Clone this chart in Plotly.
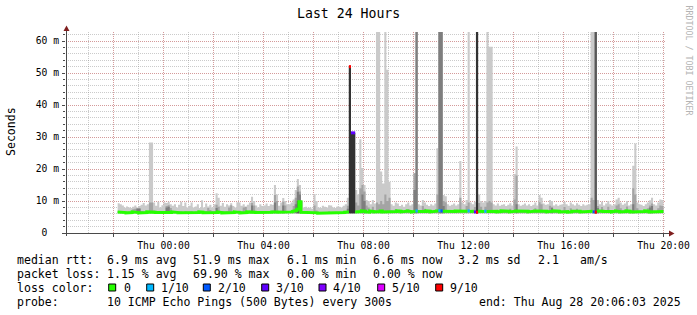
import pandas as pd
import plotly.graph_objects as go

# ---------------- data: 5-minute samples, first one at Wed 2025-08-27 22:10 ----------------
sample_start = "2025-08-27 22:10"

median_ms = [
    6.6, 6.4, 6.5, 6.4, 6.3, 6.5, 6.4, 6.6, 6.5, 6.4, 6.3, 6.4, 6.5, 6.4, 6.6, 6.5, 6.7, 6.5, 6.4, 6.3, 6.5, 6.4,
    6.4, 6.5, 6.3, 6.4, 6.6, 6.5, 6.4, 6.3, 6.5, 6.4, 6.3, 6.5,
    6.4, 6.3, 6.5, 6.4, 6.4, 6.6, 6.5, 6.3, 6.4, 6.5, 6.4, 6.3,
    6.5, 6.4, 6.6, 6.4, 6.3, 6.5, 6.4, 6.5, 6.3, 6.4, 6.6, 6.5,
    6.4, 6.3, 6.5, 6.4, 6.6, 6.5, 6.7, 6.5, 6.4, 6.3, 6.5, 6.4,
    6.5, 6.4, 6.3, 6.5, 6.6, 6.8, 6.6, 6.5, 6.4, 6.6, 6.5, 6.4,
    6.5, 6.6, 6.8, 7.0, 7.4, 9.8, 6.5, 6.4, 6.3, 6.4, 6.3, 6.5,
    6.4, 6.3, 6.2, 6.3, 6.4, 6.3, 6.2, 6.4, 6.3, 6.2, 6.3, 6.4,
    6.3, 6.2, 6.4, 6.5, 6.6, 52.0, 31.3, 31.3, 6.6, 6.8, 6.7, 6.9,
    6.8, 6.6, 6.5, 6.9, 6.7, 6.6, 6.8, 6.7, 6.9, 6.6, 6.8, 6.7,
    6.7, 6.8, 6.6, 6.7, 6.9, 6.8, 6.6, 6.7, 6.8, 6.9, 6.7, 6.6,
    6.8, 6.9, 6.7, 6.6, 6.8, 6.7, 6.9, 6.8, 6.6, 6.7, 6.8, 6.9,
    7.0, 6.9, 6.8, 6.6, 6.7, 6.8, 6.6, 6.7, 6.9, 6.8, 6.7, 6.8,
    6.7, 6.8, 6.9, 6.7, 6.8, 6.6, 6.5, 6.8, 6.9, 6.7, 6.8, 6.7,
    6.8, 6.9, 6.7, 6.8, 6.6, 6.7, 6.9, 6.8, 6.7, 6.8, 6.6, 6.7,
    6.8, 6.9, 6.7, 6.8, 6.9, 6.7, 6.8, 6.6, 6.7, 6.8, 6.9, 6.7,
    6.8, 6.7, 6.9, 6.8, 6.6, 6.7, 6.8, 6.9, 6.7, 6.8, 6.6, 6.7,
    6.8, 6.7, 6.5, 6.6, 6.8, 6.7, 6.9, 6.8, 6.6, 6.7, 6.8, 6.7,
    6.7, 6.8, 6.6, 6.5, 6.9, 7.0, 6.8, 6.7, 6.9, 6.8, 6.7, 6.6,
    6.8, 6.9, 6.7, 6.6, 6.8, 6.7, 6.9, 6.8, 6.6, 6.7, 6.8, 6.7,
    6.8, 6.6, 6.7, 6.9, 6.8, 6.6, 6.5, 6.7, 6.6, 6.5, 6.6, 6.7,
]

# slowest ping of each round (outer, lightest smoke band)
smoke_max_ms = [
    9.3, 9.0, 8.6, 7.9, 8.3, 8.0, 7.8, 8.2, 8.6, 8.0, 8.4, 8.8, 9.4, 8.6, 9.0, 28.3, 28.3, 9.5, 8.5, 9.8, 8.0, 8.7,
    9.5, 9.4, 9.8, 9.0, 8.5, 9.0, 8.0, 8.8, 9.8, 8.4, 9.5, 8.0,
    8.5, 9.5, 8.0, 8.3, 9.0, 7.8, 10.2, 8.0, 9.2, 8.3, 8.8, 8.0,
    9.0, 12.4, 11.0, 8.5, 9.4, 8.2, 9.0, 8.6, 9.3, 8.4, 8.0, 9.6,
    9.5, 8.5, 9.0, 8.2, 8.8, 9.5, 11.3, 10.0, 8.6, 8.0, 9.0, 8.4,
    8.6, 9.2, 8.4, 9.0, 8.8, 15.0, 12.0, 8.5, 9.5, 10.9, 10.0, 9.0,
    9.0, 9.5, 10.5, 13.4, 16.9, 15.0, 10.0, 8.0, 8.2, 7.8, 8.0, 7.6,
    12.2, 10.0, 8.0, 7.8, 8.5, 8.2, 8.0, 8.7, 8.6, 8.0, 7.8, 8.3,
    8.2, 8.0, 8.5, 9.0, 11.0, 52.0, 31.3, 31.3, 13.4, 12.0, 29.3, 20.3,
    15.0, 10.3, 10.0, 9.0, 10.3, 9.2, 70.0, 70.0, 19.2, 15.5, 70.0, 51.0,
    16.0, 9.0, 8.5, 9.5, 9.2, 8.4, 8.8, 8.2, 9.0, 9.5, 8.6, 9.0,
    18.7, 70.0, 9.0, 8.6, 10.3, 9.5, 8.8, 8.4, 9.0, 8.6, 9.2, 26.5,
    70.0, 70.0, 11.9, 11.5, 9.0, 8.5, 8.8, 9.2, 8.6, 9.0, 22.5, 9.5,
    9.0, 10.3, 70.0, 9.5, 9.0, 9.8, 70.0, 12.0, 10.0, 9.5, 10.0, 70.0,
    58.2, 58.2, 9.0, 8.6, 9.2, 8.5, 8.8, 9.0, 8.4, 8.8, 9.3, 8.6,
    18.4, 27.0, 9.0, 8.5, 8.8, 9.2, 8.6, 9.0, 8.4, 8.8, 9.5, 8.6,
    11.9, 11.0, 9.2, 8.8, 9.0, 10.3, 10.0, 8.6, 9.0, 8.5, 8.8, 9.0,
    9.8, 9.0, 8.5, 9.5, 9.0, 8.6, 9.3, 8.8, 8.4, 9.0, 8.6, 8.8,
    9.0, 70.0, 70.0, 70.0, 10.3, 9.0, 9.8, 8.6, 9.2, 10.0, 9.0, 8.6,
    9.0, 10.5, 11.0, 9.5, 8.8, 9.2, 10.0, 8.6, 9.0, 21.0, 28.0, 9.5,
    9.0, 8.8, 8.4, 9.0, 9.5, 10.2, 11.0, 9.0, 8.6, 9.5, 10.5, 10.3,
]

# 9th of 10 pings (second smoke band)
smoke_p9_ms = [
    6.9, 6.8, 6.7, 6.6, 6.6, 6.7, 6.8, 7.4, 7.6, 7.8, 7.8, 6.9, 6.8, 6.7, 6.9, 9.5, 9.5, 7.0, 6.7, 6.9, 6.7, 6.8,
    6.9, 8.4, 8.7, 7.8, 6.8, 6.7, 6.8, 6.9, 6.7, 6.6, 6.9, 6.7,
    6.7, 6.9, 6.6, 6.7, 6.8, 6.6, 6.8, 6.7, 6.9, 7.8, 7.2, 6.8,
    6.8, 8.8, 8.2, 6.7, 6.9, 6.7, 6.9, 8.0, 8.7, 6.8, 6.7, 6.9,
    7.0, 6.7, 8.0, 8.2, 6.8, 7.0, 9.4, 8.6, 6.8, 6.6, 6.8, 6.7,
    6.8, 6.9, 6.7, 6.8, 7.0, 11.9, 10.0, 6.8, 7.0, 9.8, 8.6, 6.9,
    6.8, 7.0, 8.4, 11.0, 14.5, 13.0, 6.8, 6.6, 6.6, 6.5, 6.6, 6.5,
    8.6, 7.0, 6.6, 6.5, 6.6, 6.5, 6.5, 6.7, 6.6, 6.5, 6.5, 6.6,
    6.6, 6.5, 6.7, 6.9, 8.5, 52.0, 31.3, 31.3, 9.5, 8.6, 14.0, 15.0,
    13.0, 8.6, 8.0, 7.1, 8.2, 7.0, 9.5, 9.0, 10.0, 9.0, 12.0, 10.0,
    11.0, 7.0, 6.9, 7.5, 7.1, 6.9, 7.0, 6.9, 7.1, 7.5, 6.9, 7.0,
    18.7, 70.0, 7.0, 6.9, 8.4, 7.6, 7.0, 6.9, 7.0, 6.9, 7.1, 12.0,
    70.0, 70.0, 10.0, 9.6, 7.0, 6.9, 7.0, 7.1, 6.9, 7.0, 11.0, 7.1,
    7.0, 8.4, 9.5, 7.1, 7.0, 8.1, 70.0, 9.4, 8.2, 7.1, 8.2, 9.5,
    10.0, 9.5, 7.0, 6.9, 7.1, 6.9, 7.0, 7.1, 6.9, 7.0, 7.6, 6.9,
    10.5, 18.0, 7.0, 6.9, 7.0, 7.1, 6.9, 7.0, 6.9, 7.0, 7.7, 6.9,
    9.6, 9.0, 7.1, 7.0, 7.0, 8.5, 8.2, 6.9, 7.0, 6.9, 7.0, 7.0,
    8.1, 7.0, 6.9, 7.7, 7.0, 6.9, 7.6, 7.0, 6.9, 7.0, 6.9, 7.0,
    7.0, 11.0, 10.3, 70.0, 8.4, 7.1, 8.1, 6.9, 7.1, 8.2, 7.0, 6.9,
    7.0, 8.6, 9.0, 7.7, 7.0, 7.1, 8.3, 6.9, 7.0, 14.0, 12.0, 7.7,
    7.0, 6.9, 6.9, 7.0, 7.7, 8.6, 9.2, 7.0, 6.9, 7.7, 8.6, 8.4,
]

# inner smoke bands, only where they rise visibly above the median line
band3_idx = [9, 10, 23, 24, 47, 64, 75, 79, 85, 86, 87, 110, 117, 118, 142, 143, 154, 155, 156, 172,
             191, 208, 229, 230, 247, 255, 256]
band3_top = [7.6, 7.6, 8.0, 8.2, 7.8, 8.6, 9.5, 8.6, 9.0, 12.9, 12.0, 7.6, 12.0, 10.0, 13.4, 70.0, 70.0, 70.0, 8.4, 70.0,
             9.0, 7.8, 70.0, 7.8, 9.0, 8.0, 8.4]
band4_idx = [86, 111, 112, 113, 172, 229]
band4_top = [10.0, 52.0, 31.3, 31.3, 70.0, 70.0]
band5_idx = [111, 112, 113, 172]
band5_top = [52.0, 31.3, 31.3, 70.0]
smoke_floor_ms = 6.2

# rounds with packet loss (lost pings out of 10)
loss_idx = [111, 112, 113, 143, 154, 155, 168, 171, 172, 176, 228, 229]
loss_tenths = [9, 3, 3, 1, 1, 2, 1, 3, 9, 1, 2, 9]

loss_levels = ["0", "1/10", "2/10", "3/10", "4/10", "5/10", "9/10"]
loss_level_values = [0, 1, 2, 3, 4, 5, 9]

x_start = "2025-08-27 20:06:03"
x_end = "2025-08-28 20:06:03"
y_ticks = [0, 10, 20, 30, 40, 50, 60]
y_ticktext = ["0\u00a0\u00a0", "10 m", "20 m", "30 m", "40 m", "50 m", "60 m"]

stats_rtt = ["6.9 ms avg", "51.9 ms max", "6.1 ms min", "6.6 ms now", "3.2 ms sd", "2.1", "am/s"]
stats_loss = ["1.15 % avg", "69.90 % max", "0.00 % min", "0.00 % now"]
probe_text = "10 ICMP Echo Pings (500 Bytes) every 300s"
end_text = "end: Thu Aug 28 20:06:03 2025"

# ---------------- styling ----------------
W, H = 697, 315
L, R, T, B = 66, 31, 32, 82
PW, PH = W - L - R, H - T - B
MONO = "DejaVu Sans Mono"
LOSS_COLORS = ["#26ff00", "#00b8ff", "#0059ff", "#5e00ff", "#7e00ff", "#dd00ff", "#ff0000"]
color_of = dict(zip(loss_level_values, LOSS_COLORS))
SMOKE = ["#cacaca", "#a4a4a4", "#7e7e7e", "#585858", "#323232"]
GRID = "rgba(140,140,140,0.45)"
MGRID = "rgba(224,79,79,0.4)"
AXIS = "#4a4a4a"
ARROW = "#7f1f1f"


def px(xp):
    return (xp - L) / PW


def py(yp):
    return (H - B - yp) / PH


N = len(median_ms)
edges = pd.date_range(sample_start, periods=N + 1, freq="5min")


def expand(idx, vals):
    arr = [smoke_floor_ms] * N
    for i, v in zip(idx, vals):
        arr[i] = v
    return arr


def step_polygon(top):
    xs, ys = [], []
    for i in range(N):
        xs += [edges[i], edges[i + 1]]
        ys += [top[i], top[i]]
    xs += [edges[N], edges[0], edges[0]]
    ys += [smoke_floor_ms, smoke_floor_ms, top[0]]
    return xs, ys


fig = go.Figure()
bands = [smoke_max_ms, smoke_p9_ms, expand(band3_idx, band3_top),
         expand(band4_idx, band4_top), expand(band5_idx, band5_top)]
for top, col in zip(bands, SMOKE):
    xs, ys = step_polygon(top)
    fig.add_trace(go.Scatter(x=xs, y=ys, mode="none", fill="toself", fillcolor=col,
                             hoverinfo="skip"))

loss_map = dict(zip(loss_idx, loss_tenths))
gx, gy = [], []
for i in range(N):
    if i in loss_map:
        gx.append(None)
        gy.append(None)
        continue
    gx += [edges[i], edges[i + 1]]
    gy += [median_ms[i], median_ms[i]]
fig.add_trace(go.Scatter(x=gx, y=gy, mode="lines", line=dict(color=color_of[0], width=3),
                         hoverinfo="skip"))
for lv in sorted(set(loss_tenths)):
    sx, sy = [], []
    for i, v in zip(loss_idx, loss_tenths):
        if v == lv:
            sx += [edges[i], edges[i + 1], None]
            sy += [median_ms[i], median_ms[i], None]
    fig.add_trace(go.Scatter(x=sx, y=sy, mode="lines", line=dict(color=color_of[lv], width=3),
                             hoverinfo="skip"))

major_x = pd.date_range("2025-08-27 22:00", "2025-08-28 20:00", freq="2h")
major_txt = [("Thu %s" % d.strftime("%H:%M")) if (d.day == 28 and d.hour % 4 == 0) else "" for d in major_x]
minor_x = pd.date_range("2025-08-27 21:00", "2025-08-28 20:00", freq="1h")

fig.update_xaxes(range=[x_start, x_end], showline=False, zeroline=False, automargin=False,
                 tickmode="array", tickvals=list(major_x), ticktext=major_txt,
                 ticks="outside", ticklen=3, tickcolor=AXIS, tickwidth=1,
                 tickfont=dict(family=MONO, size=9.7, color="#000000"),
                 showgrid=True, gridcolor=MGRID, griddash="1px,1px", gridwidth=1,
                 minor=dict(tickmode="array", tickvals=list(minor_x), showgrid=True,
                            gridcolor=GRID, griddash="1px,1px", ticks=""))
fig.update_yaxes(range=[0, PH / 3.2], showline=False, zeroline=False, automargin=False,
                 tickmode="array", tickvals=y_ticks, ticktext=y_ticktext,
                 ticks="outside", ticklen=3, tickcolor=AXIS, tickwidth=1,
                 tickfont=dict(family=MONO, size=9.7, color="#000000"),
                 ticklabelstandoff=1,
                 showgrid=True, gridcolor=MGRID, griddash="1px,1px", gridwidth=1,
                 minor=dict(dtick=2, tick0=0, showgrid=True, gridcolor=GRID, griddash="1px,1px",
                            ticks="outside", ticklen=2, tickcolor=AXIS))

shapes = [
    dict(type="line", xref="paper", yref="paper", x0=px(66.5), x1=px(66.5), y0=py(236), y1=py(30),
         line=dict(color=AXIS, width=1)),
    dict(type="line", xref="paper", yref="paper", x0=px(63), x1=px(669), y0=py(233.5), y1=py(233.5),
         line=dict(color=AXIS, width=1)),
    dict(type="path", xref="paper", yref="paper", fillcolor=ARROW, line=dict(width=0),
         path="M %f,%f L %f,%f L %f,%f Z" % (px(63.5), py(31), px(69.5), py(31), px(66.5), py(25.5))),
    dict(type="path", xref="paper", yref="paper", fillcolor=ARROW, line=dict(width=0),
         path="M %f,%f L %f,%f L %f,%f Z" % (px(669), py(230.5), px(669), py(236.5), px(674.5), py(233.5))),
]

ann = []


def text(xp, yp, s, size=11.55, anchor="left", color="#000000", angle=0, yanchor="middle"):
    ann.append(dict(x=px(xp), y=py(yp), xref="paper", yref="paper", text=s, showarrow=False,
                    xanchor=anchor, yanchor=yanchor, textangle=angle, borderpad=0, borderwidth=0,
                    font=dict(family=MONO, size=size, color=color)))


text(348.5, 14, "Last 24 Hours", size=13.2, anchor="center")
text(11, 132, "Seconds", anchor="center", angle=-90)
text(688.5, 60, "RRDTOOL / TOBI OETIKER", size=8.3, anchor="center", color="#b4b4b4", angle=90)

row_y = [260, 274, 288, 302]
text(16.7, row_y[0], "median rtt:")
for xp, s in zip([107.3, 193.3, 286.7, 372.7, 458.3, 537.7, 580], stats_rtt):
    text(xp, row_y[0], s)
text(16.7, row_y[1], "packet loss:")
for xp, s in zip([107.3, 193.3, 286.7, 372.7], stats_loss):
    text(xp, row_y[1], s)
text(16.7, row_y[2], "loss color:")
box_x = [108.7, 146.7, 203.3, 261.7, 319, 377.7, 435.7]
lab_x = [124, 160.7, 218.3, 276, 333.3, 391.7, 450]
for bx, lx, lab, col in zip(box_x, lab_x, loss_levels, LOSS_COLORS):
    shapes.append(dict(type="rect", xref="paper", yref="paper", x0=px(bx), x1=px(bx + 7),
                       y0=py(291), y1=py(284), fillcolor=col, line=dict(color="#000000", width=1)))
    text(lx, row_y[2], lab)
text(16.7, row_y[3], "probe:")
text(107.3, row_y[3], probe_text)
text(479.3, row_y[3], end_text)

fig.update_layout(width=W, height=H, margin=dict(l=L, r=R, t=T, b=B, pad=0),
                  paper_bgcolor="#ffffff", plot_bgcolor="#ffffff", showlegend=False,
                  shapes=shapes, annotations=ann)

fig.write_html("out.html")
